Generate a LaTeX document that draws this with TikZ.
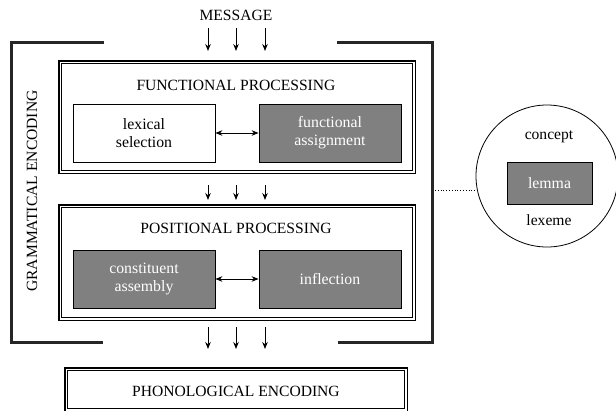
\documentclass[tikz,border=0pt]{standalone}
\usepackage{fontspec}
\setmainfont{Liberation Serif}
\usetikzlibrary{arrows.meta,calc}
\definecolor{boxgray}{HTML}{808080}
\tikzset{
  frame/.style={minimum width=#1, inner sep=0pt},
  outerline/.style={line width=1.4pt, draw=black},
  innerline/.style={line width=0.7pt, draw=black},
  wbox/.style={draw=black, line width=0.8pt, fill=white, minimum width=142pt, minimum height=58pt, align=center, inner sep=0pt, font=\fontsize{15.8}{18}\selectfont},
  gbox/.style={wbox, fill=boxgray, text=white},
  lbl/.style={font=\fontsize{15.6}{18}\selectfont, inner sep=0pt},
  flow/.style={-{Stealth[length=7pt,width=5.5pt]}, line width=0.9pt},
  biflow/.style={{Stealth[length=7pt,width=5.5pt]}-{Stealth[length=7pt,width=5.5pt]}, line width=0.9pt},
  bracket/.style={line width=3pt, draw=black!85, line join=miter},
}
\newcommand{\dframe}[1]{%
  \draw[outerline] (#1.north west) rectangle (#1.south east);
  \draw[innerline] ($(#1.north west)+(3pt,-3pt)$) rectangle ($(#1.south east)+(-3pt,3pt)$);
}
\begin{document}
\begin{tikzpicture}[x=1pt,y=-1pt]
\useasboundingbox (0,0) rectangle (616,410);
% grammatical encoding brackets
\draw[bracket] (104,42) -- (11,42) -- (11,342) -- (103,342);
\draw[bracket] (337,42) -- (432,42) -- (432,342) -- (338,342);
\node[lbl, rotate=90] (ge) at (32,191) {GRAMMATICAL ENCODING};

\node[lbl] (msg) at (236,15) {MESSAGE};

% functional processing
\node[frame=356pt, minimum height=112pt] (fp) at (237,117) {};
\dframe{fp}
\node[lbl] (fpt) at (236,85) {FUNCTIONAL PROCESSING};
\node[wbox] (lex) at (144,133) {lexical\\selection};
\node[gbox] (fa) at (330,133) {functional\\assignment};
\draw[biflow] (lex) -- (fa);

% positional processing
\node[frame=356pt, minimum height=115pt] (pp) at (237,262.5) {};
\dframe{pp}
\node[lbl] (ppt) at (236,228) {POSITIONAL PROCESSING};
\node[gbox] (ca) at (144,279) {constituent\\assembly};
\node[gbox] (inf) at (330,279) {inflection};
\draw[biflow] (ca) -- (inf);

% phonological encoding
\node[frame=342pt, minimum height=43pt] (ph) at (236,389.5) {};
\dframe{ph}
\node[lbl] (pht) at (236,391) {PHONOLOGICAL ENCODING};

% arrows
\foreach \x [count=\i] in {208,236,265}{
  \coordinate (ma\i) at (\x,28); \coordinate (mb\i) at (\x,51);
  \draw[flow] (ma\i) -- (mb\i);
  \coordinate (fa\i) at (\x,185); \coordinate (fb\i) at (\x,200);
  \draw[flow] (fa\i) -- (fb\i);
  \coordinate (pa\i) at (\x,327); \coordinate (pb\i) at (\x,349);
  \draw[flow] (pa\i) -- (pb\i);
}

% lemma circle
\node[circle, draw=black, line width=0.8pt, minimum size=142pt, inner sep=0pt] (circ) at (547,176) {};
\node[lbl] (concept) at (549,137) {concept};
\node[gbox, minimum width=85pt, minimum height=42pt] (lemma) at (549.5,183) {lemma};
\node[lbl] (lexeme) at (549,220) {lexeme};
\coordinate (dl) at (435,190);
\draw[dotted, line width=0.8pt] (dl) -- (dl -| circ.west);
\end{tikzpicture}
\end{document}
